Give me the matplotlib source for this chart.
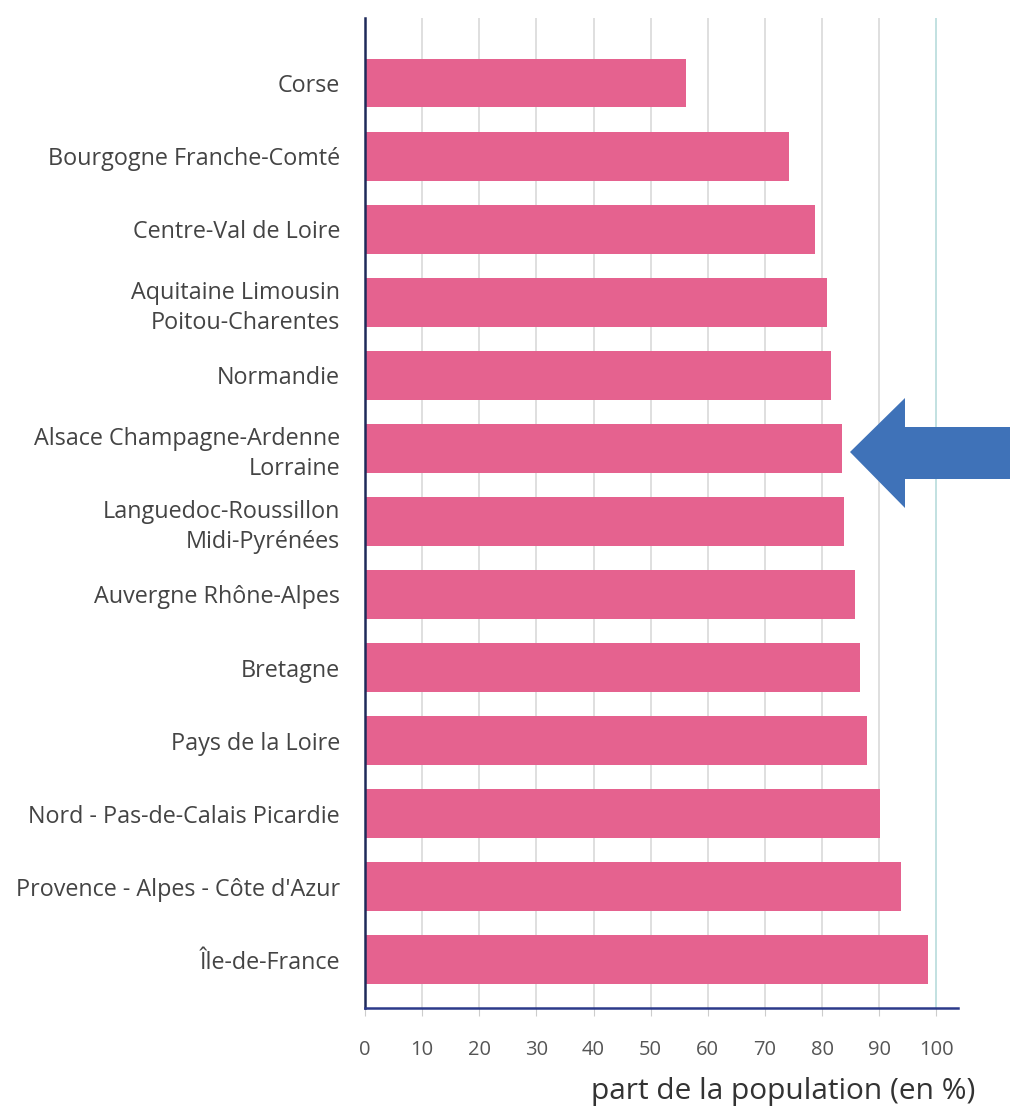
import matplotlib.pyplot as plt
from matplotlib.patches import Polygon

REGIONS = ["Corse", "Bourgogne Franche-Comté", "Centre-Val de Loire",
           "Aquitaine Limousin\nPoitou-Charentes", "Normandie",
           "Alsace Champagne-Ardenne\nLorraine",
           "Languedoc-Roussillon\nMidi-Pyrénées", "Auvergne Rhône-Alpes",
           "Bretagne", "Pays de la Loire", "Nord - Pas-de-Calais Picardie",
           "Provence - Alpes - Côte d'Azur", "Île-de-France"]
VALUES = [56.2, 74.3, 78.8, 80.9, 81.6, 83.5, 83.9, 85.8, 86.7, 87.8, 90.2, 93.9, 98.5]
XTICKS = [0, 10, 20, 30, 40, 50, 60, 70, 80, 90, 100]

plt.rcParams['font.family'] = ['Open Sans', 'DejaVu Sans']

fig = plt.figure(figsize=(10.1, 11.1), dpi=100)
ax = fig.add_axes([0.3614, 0.0919, 0.5871, 0.8919])

pos = list(range(len(REGIONS)))
ax.barh(pos, VALUES, height=0.67, color='#e5628f', zorder=2)
ax.set_yticks(pos)
ax.set_yticklabels(REGIONS, fontsize=16.8, color='#444444', linespacing=1.3)
ax.set_ylim(len(REGIONS) - 1 + 0.66, -0.89)
ax.set_xlim(0, 103.8)

ax.set_xticks(XTICKS)
ax.set_xticklabels([str(t) for t in XTICKS], fontsize=14.5, color='#555555')
ax.tick_params(axis='y', length=0, pad=18)
ax.tick_params(axis='x', length=6, color='#cccccc', pad=17)

# vertical grid, last line slightly teal
for t in XTICKS[:-1]:
    ax.axvline(t, color='#d9d9d9', lw=1.2, zorder=1)
ax.axvline(XTICKS[-1], color='#b8dcdc', lw=1.2, zorder=1)

for s in ['top', 'right']:
    ax.spines[s].set_visible(False)
ax.spines['left'].set_color('#1f2a5a')
ax.spines['bottom'].set_color('#2c3a8a')
ax.spines['left'].set_linewidth(1.8)
ax.spines['bottom'].set_linewidth(1.8)

fig.text(975 / 1010, 1 - 1092 / 1110, 'part de la population (en %)',
         fontsize=21.5, color='#333333', ha='right', va='center')

# blue arrow pointing at Alsace Champagne-Ardenne Lorraine
W, H = 1010, 1110
pts = [(850, 452), (905, 398), (905, 427), (1010, 427),
       (1010, 479), (905, 479), (905, 508)]
arrow = Polygon([(x / W, 1 - y / H) for x, y in pts], closed=True,
                transform=fig.transFigure, facecolor='#3f72b8',
                edgecolor='none', zorder=5)
fig.patches.append(arrow)

fig.savefig('out.png', dpi=100)
